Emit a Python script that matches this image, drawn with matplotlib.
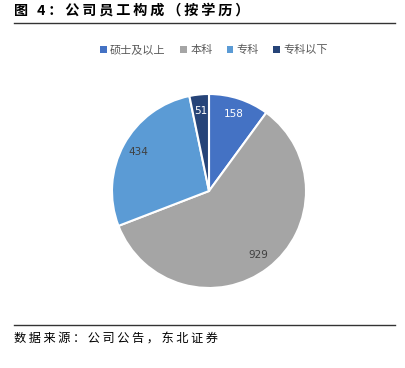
import matplotlib
matplotlib.use('Agg')
import matplotlib.pyplot as plt
from matplotlib.lines import Line2D

plt.rcParams['font.family'] = ['Noto Sans CJK SC', 'DejaVu Sans']

# data
categories = ['硕士及以上', '本科', '专科', '专科以下']
values = [158, 929, 434, 51]
colors = ['#4472C4', '#A5A5A5', '#5B9BD5', '#264478']
label_colors = ['white', '#404040', '#404040', 'white']
title = '图 4：公司员工构成（按学历）'
source = '数据来源：公司公告，东北证券'

fig = plt.figure(figsize=(4.06, 3.68), dpi=100)

# spread CJK text a bit like the original report typesetting
def spaced(s):
    return '\u2009'.join(s)

# title and rules
fig.text(14 / 406, 1 - 11 / 368, spaced(title), fontsize=10.2,
         fontweight='bold', va='center', ha='left', color='black')
fig.add_artist(Line2D([14 / 406, 395 / 406], [1 - 23 / 368] * 2, color='#333333', lw=1))
fig.add_artist(Line2D([14 / 406, 395 / 406], [1 - 325 / 368] * 2, color='#333333', lw=1))
fig.text(14 / 406, 1 - 339 / 368, spaced(source), fontsize=8.8,
         va='center', ha='left', color='black')

# pie
cx, cy, r = 209, 191, 97
ax = fig.add_axes([(cx - r) / 406, (368 - cy - r) / 368, 2 * r / 406, 2 * r / 368])
wedges, texts, autotexts = ax.pie(values, colors=colors, startangle=90, counterclock=False,
                                  autopct=lambda p: '{:.0f}'.format(p * sum(values) / 100),
                                  pctdistance=0.83, radius=1,
                                  wedgeprops=dict(edgecolor='white', linewidth=1.5),
                                  textprops=dict(fontsize=7.5))
for t, c in zip(autotexts, label_colors):
    t.set_color(c)
    t.set_fontfamily(['DejaVu Sans'])
ax.set_xlim(-1, 1)
ax.set_ylim(-1, 1)
ax.set_aspect('auto')

leg = fig.legend(wedges, categories, loc='center', bbox_to_anchor=(214 / 406, 1 - 50 / 368),
                 ncol=4, frameon=False, fontsize=8, handlelength=0.6, handleheight=0.6,
                 handletextpad=0.3, columnspacing=1.3, labelcolor='#595959')
for h in leg.legend_handles:
    h.set_linewidth(0)

fig.savefig('out.png', dpi=100)
